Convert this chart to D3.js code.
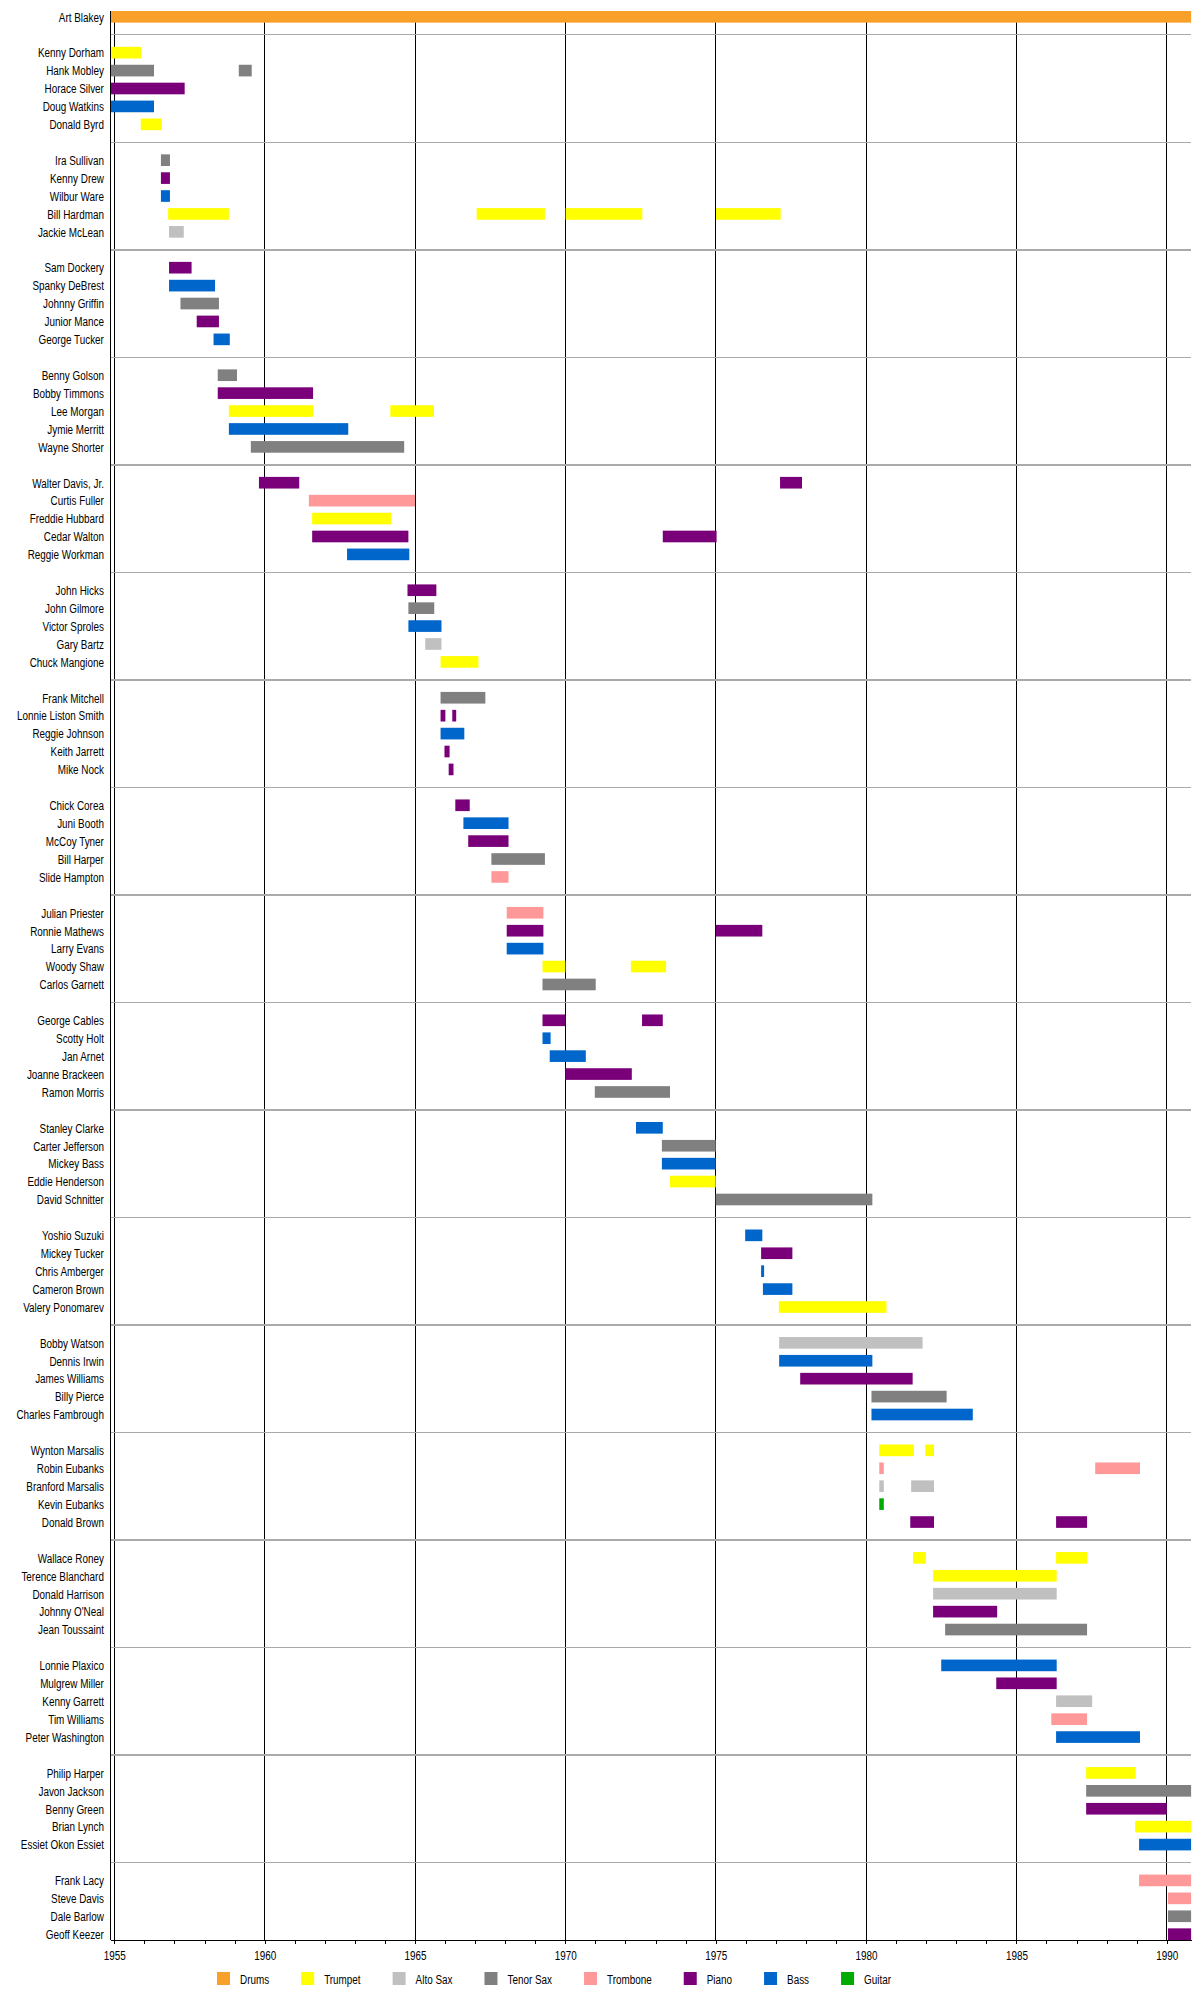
<!DOCTYPE html>
<html>
<head>
<meta charset="utf-8">
<script src="https://cdn.jsdelivr.net/npm/d3@7"></script>
<style>
  body { margin: 0; background: #fff; }
  text { font-family: "Liberation Sans Narrow", "Arial Narrow", "Liberation Sans", Arial, sans-serif; font-size: 12px; fill: #000; }
  line, path { shape-rendering: crispEdges; }
</style>
</head>
<body>
<svg id="chart" width="1200" height="2000"></svg>
<script>
// instruments and their legend colours
const instruments = ["Drums", "Trumpet", "Alto Sax", "Tenor Sax", "Trombone", "Piano", "Bass", "Guitar"];
const palette = ["#f9a02a", "#ffff00", "#c0c0c0", "#808080", "#ff9999", "#7a007a", "#0066cc", "#00aa00"];

// members in display order, one list per line-up
const groups = [
  ["Art Blakey"],
  ["Kenny Dorham", "Hank Mobley", "Horace Silver", "Doug Watkins", "Donald Byrd"],
  ["Ira Sullivan", "Kenny Drew", "Wilbur Ware", "Bill Hardman", "Jackie McLean"],
  ["Sam Dockery", "Spanky DeBrest", "Johnny Griffin", "Junior Mance", "George Tucker"],
  ["Benny Golson", "Bobby Timmons", "Lee Morgan", "Jymie Merritt", "Wayne Shorter"],
  ["Walter Davis, Jr.", "Curtis Fuller", "Freddie Hubbard", "Cedar Walton", "Reggie Workman"],
  ["John Hicks", "John Gilmore", "Victor Sproles", "Gary Bartz", "Chuck Mangione"],
  ["Frank Mitchell", "Lonnie Liston Smith", "Reggie Johnson", "Keith Jarrett", "Mike Nock"],
  ["Chick Corea", "Juni Booth", "McCoy Tyner", "Bill Harper", "Slide Hampton"],
  ["Julian Priester", "Ronnie Mathews", "Larry Evans", "Woody Shaw", "Carlos Garnett"],
  ["George Cables", "Scotty Holt", "Jan Arnet", "Joanne Brackeen", "Ramon Morris"],
  ["Stanley Clarke", "Carter Jefferson", "Mickey Bass", "Eddie Henderson", "David Schnitter"],
  ["Yoshio Suzuki", "Mickey Tucker", "Chris Amberger", "Cameron Brown", "Valery Ponomarev"],
  ["Bobby Watson", "Dennis Irwin", "James Williams", "Billy Pierce", "Charles Fambrough"],
  ["Wynton Marsalis", "Robin Eubanks", "Branford Marsalis", "Kevin Eubanks", "Donald Brown"],
  ["Wallace Roney", "Terence Blanchard", "Donald Harrison", "Johnny O'Neal", "Jean Toussaint"],
  ["Lonnie Plaxico", "Mulgrew Miller", "Kenny Garrett", "Tim Williams", "Peter Washington"],
  ["Philip Harper", "Javon Jackson", "Benny Green", "Brian Lynch", "Essiet Okon Essiet"],
  ["Frank Lacy", "Steve Davis", "Dale Barlow", "Geoff Keezer"]
];

// [member, instrument, start, end] in fractional years
const stints = [
  ["Art Blakey", "Drums", 1954.87, 1990.81],
  ["Kenny Dorham", "Trumpet", 1954.87, 1955.89],
  ["Hank Mobley", "Tenor Sax", 1954.87, 1956.32],
  ["Hank Mobley", "Tenor Sax", 1959.14, 1959.57],
  ["Horace Silver", "Piano", 1954.87, 1957.34],
  ["Doug Watkins", "Bass", 1954.87, 1956.32],
  ["Donald Byrd", "Trumpet", 1955.88, 1956.58],
  ["Ira Sullivan", "Tenor Sax", 1956.55, 1956.85],
  ["Kenny Drew", "Piano", 1956.55, 1956.85],
  ["Wilbur Ware", "Bass", 1956.55, 1956.85],
  ["Bill Hardman", "Trumpet", 1956.79, 1958.81],
  ["Bill Hardman", "Trumpet", 1967.05, 1969.32],
  ["Bill Hardman", "Trumpet", 1970.01, 1972.56],
  ["Bill Hardman", "Trumpet", 1975.01, 1977.16],
  ["Jackie McLean", "Alto Sax", 1956.82, 1957.31],
  ["Sam Dockery", "Piano", 1956.82, 1957.57],
  ["Spanky DeBrest", "Bass", 1956.82, 1958.35],
  ["Johnny Griffin", "Tenor Sax", 1957.2, 1958.48],
  ["Junior Mance", "Piano", 1957.74, 1958.48],
  ["George Tucker", "Bass", 1958.3, 1958.84],
  ["Benny Golson", "Tenor Sax", 1958.44, 1959.08],
  ["Bobby Timmons", "Piano", 1958.44, 1961.61],
  ["Lee Morgan", "Trumpet", 1958.81, 1961.61],
  ["Lee Morgan", "Trumpet", 1964.18, 1965.63],
  ["Jymie Merritt", "Bass", 1958.81, 1962.78],
  ["Wayne Shorter", "Tenor Sax", 1959.54, 1964.64],
  ["Walter Davis, Jr.", "Piano", 1959.81, 1961.15],
  ["Walter Davis, Jr.", "Piano", 1977.14, 1977.87],
  ["Curtis Fuller", "Trombone", 1961.47, 1965.0],
  ["Freddie Hubbard", "Trumpet", 1961.58, 1964.21],
  ["Cedar Walton", "Piano", 1961.58, 1964.78],
  ["Cedar Walton", "Piano", 1973.24, 1975.03],
  ["Reggie Workman", "Bass", 1962.74, 1964.81],
  ["John Hicks", "Piano", 1964.75, 1965.71],
  ["John Gilmore", "Tenor Sax", 1964.78, 1965.64],
  ["Victor Sproles", "Bass", 1964.78, 1965.88],
  ["Gary Bartz", "Alto Sax", 1965.34, 1965.88],
  ["Chuck Mangione", "Trumpet", 1965.85, 1967.11],
  ["Frank Mitchell", "Tenor Sax", 1965.85, 1967.34],
  ["Lonnie Liston Smith", "Piano", 1965.85, 1966.01],
  ["Lonnie Liston Smith", "Piano", 1966.24, 1966.37],
  ["Reggie Johnson", "Bass", 1965.85, 1966.64],
  ["Keith Jarrett", "Piano", 1965.98, 1966.15],
  ["Mike Nock", "Piano", 1966.12, 1966.28],
  ["Chick Corea", "Piano", 1966.34, 1966.82],
  ["Juni Booth", "Bass", 1966.61, 1968.11],
  ["McCoy Tyner", "Piano", 1966.77, 1968.11],
  ["Bill Harper", "Tenor Sax", 1967.54, 1969.32],
  ["Slide Hampton", "Trombone", 1967.54, 1968.11],
  ["Julian Priester", "Trombone", 1968.05, 1969.27],
  ["Ronnie Mathews", "Piano", 1968.05, 1969.27],
  ["Ronnie Mathews", "Piano", 1975.0, 1976.55],
  ["Larry Evans", "Bass", 1968.05, 1969.27],
  ["Woody Shaw", "Trumpet", 1969.24, 1970.0],
  ["Woody Shaw", "Trumpet", 1972.18, 1973.35],
  ["Carlos Garnett", "Tenor Sax", 1969.24, 1971.01],
  ["George Cables", "Piano", 1969.24, 1970.0],
  ["George Cables", "Piano", 1972.55, 1973.24],
  ["Scotty Holt", "Bass", 1969.24, 1969.51],
  ["Jan Arnet", "Bass", 1969.48, 1970.68],
  ["Joanne Brackeen", "Piano", 1970.0, 1972.21],
  ["Ramon Morris", "Tenor Sax", 1970.98, 1973.48],
  ["Stanley Clarke", "Bass", 1972.35, 1973.24],
  ["Carter Jefferson", "Tenor Sax", 1973.21, 1975.0],
  ["Mickey Bass", "Bass", 1973.21, 1975.0],
  ["Eddie Henderson", "Trumpet", 1973.48, 1975.0],
  ["David Schnitter", "Tenor Sax", 1975.0, 1980.21],
  ["Yoshio Suzuki", "Bass", 1975.98, 1976.55],
  ["Mickey Tucker", "Piano", 1976.51, 1977.55],
  ["Chris Amberger", "Bass", 1976.51, 1976.61],
  ["Cameron Brown", "Bass", 1976.57, 1977.55],
  ["Valery Ponomarev", "Trumpet", 1977.1, 1980.68],
  ["Bobby Watson", "Alto Sax", 1977.11, 1981.88],
  ["Dennis Irwin", "Bass", 1977.11, 1980.21],
  ["James Williams", "Piano", 1977.81, 1981.55],
  ["Billy Pierce", "Tenor Sax", 1980.18, 1982.68],
  ["Charles Fambrough", "Bass", 1980.18, 1983.55],
  ["Wynton Marsalis", "Trumpet", 1980.44, 1981.59],
  ["Wynton Marsalis", "Trumpet", 1981.97, 1982.26],
  ["Robin Eubanks", "Trombone", 1980.44, 1980.59],
  ["Robin Eubanks", "Trombone", 1987.62, 1989.11],
  ["Branford Marsalis", "Alto Sax", 1980.44, 1980.59],
  ["Branford Marsalis", "Alto Sax", 1981.5, 1982.26],
  ["Kevin Eubanks", "Guitar", 1980.44, 1980.59],
  ["Donald Brown", "Piano", 1981.47, 1982.26],
  ["Donald Brown", "Piano", 1986.32, 1987.35],
  ["Wallace Roney", "Trumpet", 1981.56, 1981.99],
  ["Wallace Roney", "Trumpet", 1986.32, 1987.35],
  ["Terence Blanchard", "Trumpet", 1982.23, 1986.34],
  ["Donald Harrison", "Alto Sax", 1982.23, 1986.34],
  ["Johnny O'Neal", "Piano", 1982.23, 1984.36],
  ["Jean Toussaint", "Tenor Sax", 1982.63, 1987.35],
  ["Lonnie Plaxico", "Bass", 1982.5, 1986.34],
  ["Mulgrew Miller", "Piano", 1984.33, 1986.34],
  ["Kenny Garrett", "Alto Sax", 1986.32, 1987.52],
  ["Tim Williams", "Trombone", 1986.16, 1987.35],
  ["Peter Washington", "Bass", 1986.32, 1989.11],
  ["Philip Harper", "Trumpet", 1987.32, 1988.97],
  ["Javon Jackson", "Tenor Sax", 1987.32, 1990.81],
  ["Benny Green", "Piano", 1987.32, 1990.0],
  ["Brian Lynch", "Trumpet", 1988.95, 1990.81],
  ["Essiet Okon Essiet", "Bass", 1989.08, 1990.81],
  ["Frank Lacy", "Trombone", 1989.08, 1990.81],
  ["Steve Davis", "Trombone", 1990.04, 1990.81],
  ["Dale Barlow", "Tenor Sax", 1990.04, 1990.81],
  ["Geoff Keezer", "Piano", 1990.04, 1990.81]
];

const yearTicks = d3.range(1955, 1991);
const gridYears = d3.range(1955, 1991, 5);

// ---- layout ----
const plot = { left: 110.4, right: 1191.1, top: 11, bottom: 1940 };

// one blank row between line-ups
const rows = [];
groups.forEach((g, i) => {
  if (i > 0) rows.push("__sep" + i);
  g.forEach(n => rows.push(n));
});

const x = d3.scaleLinear().domain([1954.87, 1990.81]).range([plot.left, plot.right]);
const y = d3.scaleBand().domain(rows).range([plot.top, plot.bottom]).paddingInner(0.35).paddingOuter(0);
const color = d3.scaleOrdinal().domain(instruments).range(palette);
const bw = y.bandwidth();

const svg = d3.select("#chart");

// vertical year grid
svg.append("g").selectAll("line")
  .data(gridYears)
  .enter().append("line")
  .attr("x1", d => x(d)).attr("x2", d => x(d))
  .attr("y1", plot.top).attr("y2", plot.bottom)
  .attr("stroke", "#000").attr("stroke-width", 1);

// separators between line-ups
svg.append("g").selectAll("line")
  .data(rows.filter(r => r.startsWith("__sep")))
  .enter().append("line")
  .attr("x1", plot.left).attr("x2", plot.right)
  .attr("y1", d => y(d) + bw / 2).attr("y2", d => y(d) + bw / 2)
  .attr("stroke", "#aaa").attr("stroke-width", 1.5);

// bars
svg.append("g").selectAll("rect")
  .data(stints)
  .enter().append("rect")
  .attr("x", d => x(d[2]))
  .attr("y", d => y(d[0]))
  .attr("width", d => x(d[3]) - x(d[2]))
  .attr("height", bw)
  .attr("fill", d => color(d[1]));

// y axis line + names
svg.append("line")
  .attr("x1", plot.left).attr("x2", plot.left).attr("y1", plot.top).attr("y2", plot.bottom)
  .attr("stroke", "#000").attr("stroke-width", 1.5);

svg.append("g").selectAll("text")
  .data(rows.filter(r => !r.startsWith("__sep")))
  .enter().append("text")
  .attr("x", plot.left - 6.5)
  .attr("y", d => y(d) + bw / 2)
  .attr("dy", "0.4em")
  .attr("text-anchor", "end")
  .text(d => d);

// x axis
const xAxis = svg.append("g")
  .attr("transform", `translate(0,${plot.bottom})`)
  .call(d3.axisBottom(x)
    .tickValues(yearTicks)
    .tickSize(4)
    .tickSizeOuter(0)
    .tickPadding(7)
    .tickFormat(d => d % 5 === 0 ? d : ""));
xAxis.select(".domain").attr("stroke-width", 1.5);
xAxis.selectAll("text").attr("fill", "#000");
xAxis.attr("font-size", null).attr("font-family", null);

// squeeze text if no narrow face is installed
function narrowRatio() {
  if (narrowRatio.r) return narrowRatio.r;
  const probe = svg.append("text").text("Kenny Dorham");
  const w = probe.node().getComputedTextLength();
  probe.remove();
  narrowRatio.r = w > 72 ? 66 / w : 1;
  return narrowRatio.r;
}
const squeeze = narrowRatio();

// legend
const legend = svg.append("g").attr("transform", "translate(217,1972)");
let lx = 0;
instruments.forEach(inst => {
  const item = legend.append("g").attr("transform", `translate(${lx},0)`);
  item.append("rect").attr("width", 13).attr("height", 13).attr("fill", color(inst));
  const t = item.append("text").attr("x", 23).attr("y", 12).text(inst);
  lx += 23 + t.node().getComputedTextLength() * squeeze + 32;
});

if (squeeze < 1) {
  svg.selectAll("text").each(function() {
    const len = this.getComputedTextLength();
    if (len > 0) d3.select(this).attr("textLength", len * squeeze).attr("lengthAdjust", "spacingAndGlyphs");
  });
}
</script>
</body>
</html>
